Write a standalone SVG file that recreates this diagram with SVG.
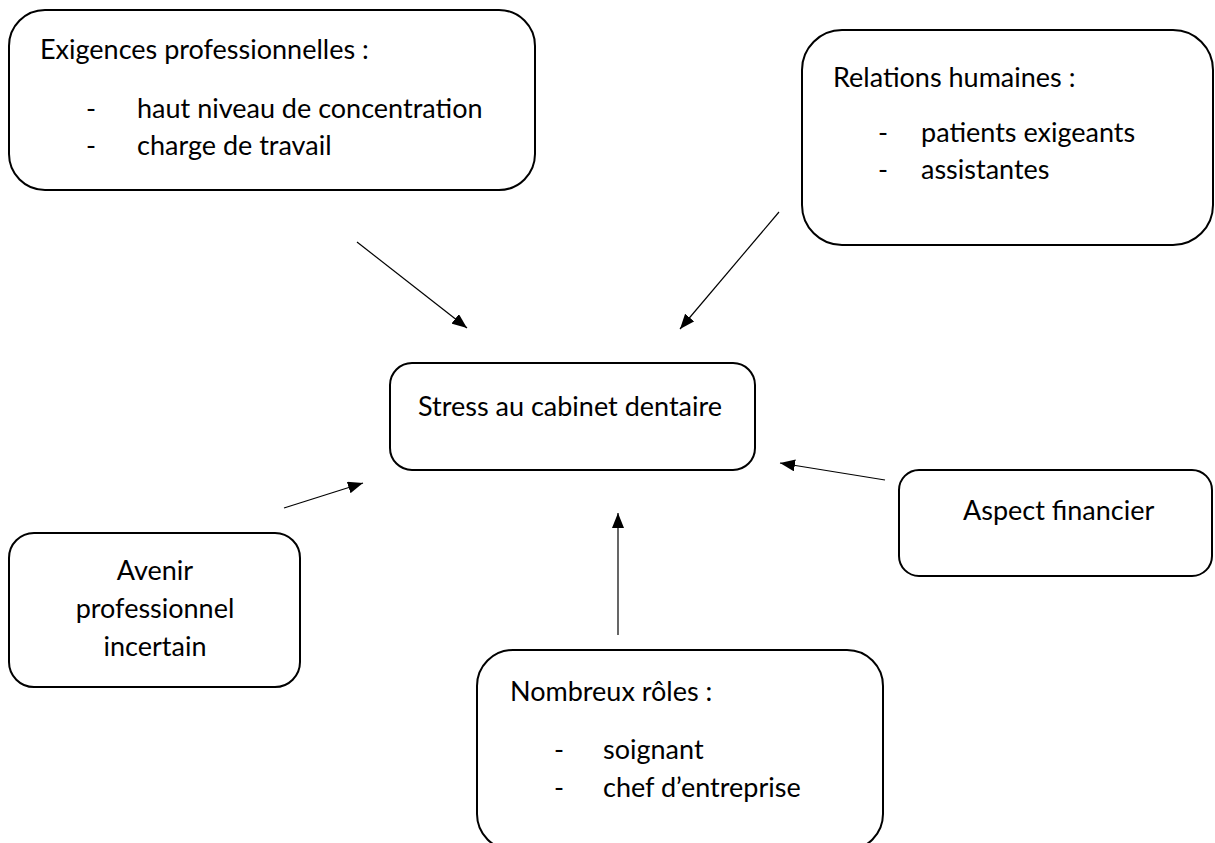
<svg xmlns="http://www.w3.org/2000/svg" width="1215" height="843" viewBox="0 0 1215 843">
<style>
.box{fill:#fff;stroke:#000;stroke-width:2}
.t{font-family:Lato,"Open Sans","Liberation Sans",sans-serif;font-size:27px;fill:#000}
.c{text-anchor:middle}
.ln{stroke:#000;stroke-width:1.2;fill:none}
</style>
<defs>
<marker id="ah" viewBox="0 0 10 10" refX="10" refY="5" markerWidth="15" markerHeight="12" markerUnits="userSpaceOnUse" orient="auto" preserveAspectRatio="none">
<path d="M0,0 L10,5 L0,10 z" fill="#000"/>
</marker>
</defs>
<rect width="1215" height="843" fill="#fff"/>
<g id="connectors">
<line class="ln" x1="357" y1="242" x2="467" y2="328" marker-end="url(#ah)"/>
<line class="ln" x1="779" y1="212" x2="680" y2="329" marker-end="url(#ah)"/>
<line class="ln" x1="284" y1="508" x2="363" y2="483" marker-end="url(#ah)"/>
<line class="ln" x1="885" y1="480" x2="780" y2="463" marker-end="url(#ah)"/>
<line class="ln" x1="618" y1="635" x2="618" y2="513" marker-end="url(#ah)"/>
</g>
<g id="exigences">
<rect class="box" x="9" y="10" width="526" height="180" rx="36"/>
<text class="t" x="40" y="59">Exigences professionnelles :</text>
<text class="t" x="86" y="118">-</text>
<text class="t" x="137" y="118">haut niveau de concentration</text>
<text class="t" x="86" y="155">-</text>
<text class="t" x="137" y="155">charge de travail</text>
</g>
<g id="relations">
<rect class="box" x="802" y="30" width="411" height="215" rx="40"/>
<text class="t" x="833" y="87">Relations humaines :</text>
<text class="t" x="878" y="142">-</text>
<text class="t" x="921" y="142">patients exigeants</text>
<text class="t" x="878" y="179">-</text>
<text class="t" x="921" y="179">assistantes</text>
</g>
<g id="stress">
<rect class="box" x="390" y="363" width="365" height="107" rx="22"/>
<text class="t" x="418" y="416">Stress au cabinet dentaire</text>
</g>
<g id="financier">
<rect class="box" x="899" y="470" width="313" height="106" rx="20"/>
<text class="t" x="963" y="520">Aspect financier</text>
</g>
<g id="avenir">
<rect class="box" x="9" y="533" width="291" height="154" rx="25"/>
<text class="t c" x="155" y="580">Avenir</text>
<text class="t c" x="155" y="618">professionnel</text>
<text class="t c" x="155" y="656">incertain</text>
</g>
<g id="roles">
<rect class="box" x="477" y="650" width="406" height="200" rx="36"/>
<text class="t" x="510" y="701">Nombreux rôles :</text>
<text class="t" x="554" y="759">-</text>
<text class="t" x="603" y="759">soignant</text>
<text class="t" x="554" y="797">-</text>
<text class="t" x="603" y="797">chef d’entreprise</text>
</g>
</svg>
